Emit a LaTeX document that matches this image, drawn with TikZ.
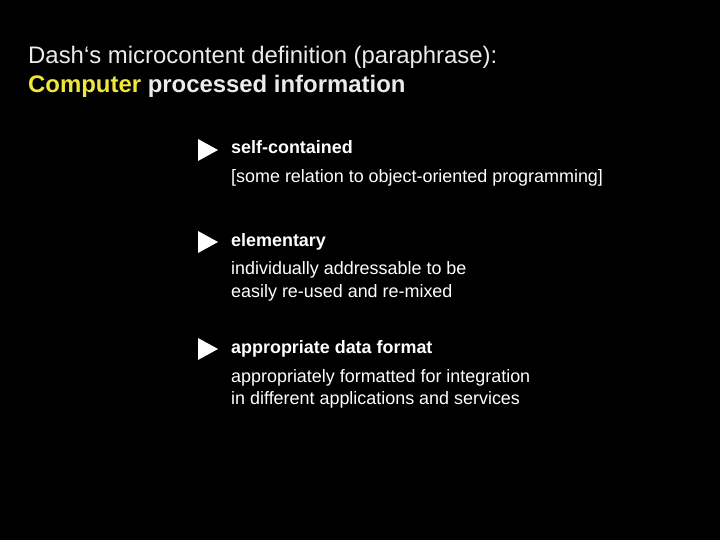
\documentclass[tikz,border=0pt]{standalone}
\usepackage{fontspec}
\setmainfont{Liberation Sans}
\definecolor{ylw}{RGB}{240,230,60}
\definecolor{lgr}{RGB}{235,235,235}
\begin{document}
\begin{tikzpicture}[x=1bp,y=-1bp,
  title/.style={anchor=base west,inner sep=0,font=\fontsize{24}{28}\selectfont,text=lgr},
  head/.style={anchor=base west,inner sep=0,font=\fontsize{18}{22}\selectfont\bfseries,text=white},
  body/.style={anchor=base west,inner sep=0,font=\fontsize{18}{22}\selectfont,text=white},
  tri/.style={fill=white}]
\fill[black] (0,0) rectangle (720,540);
\useasboundingbox (0,0) rectangle (720,540);
\node[title] (t1) at (28,64) {Dash‘s microcontent definition (paraphrase):};
\node[title,font=\fontsize{24}{28}\selectfont\bfseries] (t2) at (28,93) {\textcolor{ylw}{Computer} processed information};
\foreach \n/\y in {a/150,b/242,c/349}{
  \fill[tri] (198,\y-11) -- (218,\y) -- (198,\y+11) -- cycle;
}
\node[head] (h1) at (231,154) {self-contained};
\node[body] (b1) at (231,183) {[some relation to object-oriented programming]};
\node[head] (h2) at (231,247) {elementary};
\node[body] (b2a) at (231,275) {individually addressable to be};
\node[body] (b2b) at (231,297) {easily re-used and re-mixed};
\node[head] (h3) at (231,353) {appropriate data format};
\node[body] (b3a) at (231,382) {appropriately formatted for integration};
\node[body] (b3b) at (231,404) {in different applications and services};
\end{tikzpicture}
\end{document}
